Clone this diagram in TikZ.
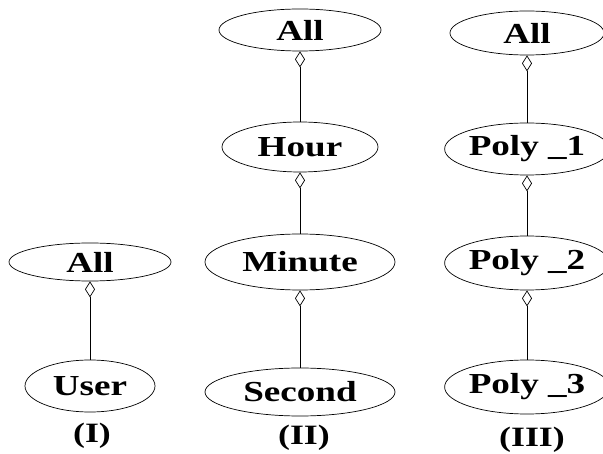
\documentclass[tikz,border=0pt]{standalone}
\usepackage{fontspec}
\setmainfont{Liberation Serif}
\newfontfamily\lblfont[FakeStretch=1.28]{Liberation Serif}
\usetikzlibrary{shapes.geometric}
\usetikzlibrary{arrows.meta}
\newcommand*{\colI  }{90}
\newcommand*{\colII }{300}
\newcommand*{\colIII}{527}

\tikzset{
    attr/.style={draw, ellipse, inner sep=0pt, line width=0.7pt,
        font=\lblfont\bfseries\fontsize{29}{32}\selectfont},
    agg/.style={{Diamond[open,length=16pt,width=10pt]}-, line width=0.7pt},
    tag/.style={inner sep=0pt, font=\lblfont\bfseries\fontsize{28}{30}\selectfont}
}

\begin{document}
\begin{tikzpicture}[x=1pt, y=-1pt]
    \useasboundingbox (0,0) rectangle (603,454);
    % (I)
    \node [attr, minimum width=162pt, minimum height=38pt] (allI)  at (\colI,262) {All};
    \node [attr, minimum width=130pt, minimum height=52pt] (user)  at (\colI,386) {User};
    \node [tag] (tagI) at (\colI+2,436) {(I)};
    \draw [agg] (allI) -- (user);
    % (II)
    \node [attr, minimum width=162pt, minimum height=42pt] (allII)  at (\colII,30)  {All};
    \node [attr, minimum width=156pt, minimum height=50pt] (hour)   at (\colII,147) {Hour};
    \node [attr, minimum width=190pt, minimum height=56pt] (minute) at (\colII,262) {Minute};
    \node [attr, minimum width=190pt, minimum height=48pt] (second) at (\colII,392) {Second};
    \node [tag] (tagII) at (\colII+4,438) {(II)};
    \draw [agg] (allII)  -- (hour);
    \draw [agg] (hour)   -- (minute);
    \draw [agg] (minute) -- (second);
    % (III)
    \node [attr, minimum width=154pt, minimum height=44pt] (allIII) at (\colIII,33)  {All};
    \node [attr, minimum width=158pt, minimum height=52pt] (polyA)  at (\colIII,149) {Poly \_1};
    \node [attr, minimum width=158pt, minimum height=54pt] (polyB)  at (\colIII,263) {Poly \_2};
    \node [attr, minimum width=156pt, minimum height=54pt] (polyC)  at (\colIII,387) {Poly \_3};
    \node [tag] (tagIII) at (\colIII+5,440) {(III)};
    \draw [agg] (allIII) -- (polyA);
    \draw [agg] (polyA)  -- (polyB);
    \draw [agg] (polyB)  -- (polyC);
\end{tikzpicture}
\end{document}
